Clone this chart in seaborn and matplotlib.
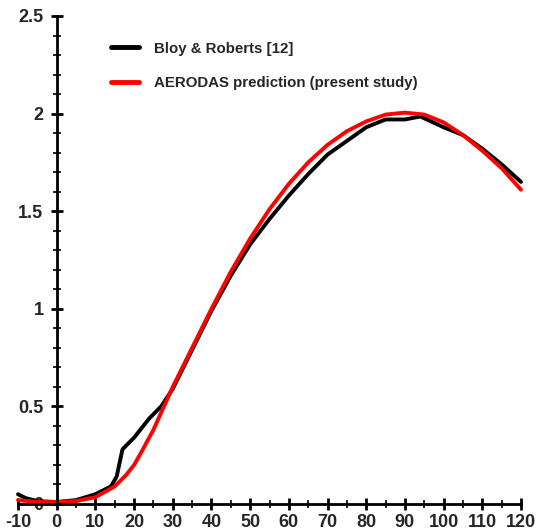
import matplotlib
matplotlib.use("Agg")
import matplotlib.pyplot as plt
import seaborn as sns
import pandas as pd
from matplotlib.ticker import MultipleLocator

# Data
bloy_x = [-10, -8, -5, 0, 5, 10, 14, 15.5, 17, 18.5, 20, 22, 24, 27, 30, 35, 40, 45, 50, 55, 60, 65, 70, 75, 80, 85, 90, 94, 100, 105, 110, 115, 120]
bloy_y = [0.05, 0.03, 0.015, 0.01, 0.02, 0.05, 0.09, 0.14, 0.28, 0.31, 0.34, 0.39, 0.44, 0.5, 0.59, 0.79, 0.99, 1.17, 1.33, 1.46, 1.58, 1.69, 1.79, 1.86, 1.93, 1.97, 1.97, 1.985, 1.93, 1.89, 1.82, 1.74, 1.65]

aero_x = [-10, -5, 0, 5, 10, 15, 18, 20, 22, 25, 27.5, 30, 35, 40, 45, 50, 55, 60, 65, 70, 75, 80, 85, 90, 95, 100, 105, 110, 115, 120]
aero_y = [0.02, 0.01, 0.01, 0.015, 0.035, 0.09, 0.15, 0.2, 0.27, 0.38, 0.49, 0.6, 0.8, 1.0, 1.19, 1.36, 1.51, 1.64, 1.75, 1.84, 1.91, 1.96, 1.995, 2.005, 1.995, 1.955, 1.89, 1.81, 1.72, 1.61]

series_names = ["Bloy & Roberts [12]", "AERODAS prediction (present study)"]
x_ticks = [-10, 0, 10, 20, 30, 40, 50, 60, 70, 80, 90, 100, 110, 120]
y_ticks = [0, 0.5, 1, 1.5, 2, 2.5]
y_tick_labels = ["0", "0.5", "1", "1.5", "2", "2.5"]

df = pd.concat([
    pd.DataFrame({"x": bloy_x, "y": bloy_y, "series": series_names[0]}),
    pd.DataFrame({"x": aero_x, "y": aero_y, "series": series_names[1]}),
])

sns.set_style("white")
plt.rcParams["font.family"] = ["Liberation Sans", "DejaVu Sans"]
plt.rcParams["font.weight"] = "bold"
plt.rcParams["axes.unicode_minus"] = False

fig = plt.figure(figsize=(5.36, 5.31), dpi=100)
ax = fig.add_axes([18/536, 1 - 504/531, (521-18)/536, (504-16)/531])

sns.lineplot(data=df, x="x", y="y", hue="series", palette=["black", "#ff0000"],
             linewidth=2.8, sort=False, ax=ax, legend=True)
for ln in ax.lines:
    ln.set_clip_on(False)
    ln.set_solid_joinstyle("round")

ax.set_xlim(-10, 120)
ax.set_ylim(0, 2.5)
ax.set_xlabel("")
ax.set_ylabel("")

ax.spines["left"].set_position(("data", 0))
ax.spines["bottom"].set_position(("data", 0))
ax.spines["right"].set_visible(False)
ax.spines["top"].set_visible(False)
for s in ("left", "bottom"):
    ax.spines[s].set_linewidth(2)
    ax.spines[s].set_color("black")

ax.set_xticks(x_ticks)
ax.set_yticks(y_ticks)
ax.set_yticklabels(y_tick_labels)
ax.xaxis.set_minor_locator(MultipleLocator(5))
ax.yaxis.set_minor_locator(MultipleLocator(0.1))
ax.tick_params(which="both", bottom=True, left=True, top=False, right=False)
ax.tick_params(which="major", direction="inout", length=9, width=2, color="black",
               labelsize=13)
ax.tick_params(which="minor", direction="inout", length=6, width=1.2, color="black")
ax.tick_params(axis="x", which="major", pad=3)
ax.tick_params(axis="y", which="major", pad=5)
for lab in ax.get_xticklabels() + ax.get_yticklabels():
    lab.set_fontweight("bold")

handles, labels = ax.get_legend_handles_labels()
leg = ax.legend(handles, labels, loc="upper left", bbox_to_anchor=(0.158, 0.975),
                frameon=False, handlelength=1.9, handletextpad=1.0,
                labelspacing=1.35, prop={"weight": "bold", "size": 10.8})
for h in leg.get_lines():
    h.set_linewidth(3.5)

fig.savefig("out.png", dpi=100)
